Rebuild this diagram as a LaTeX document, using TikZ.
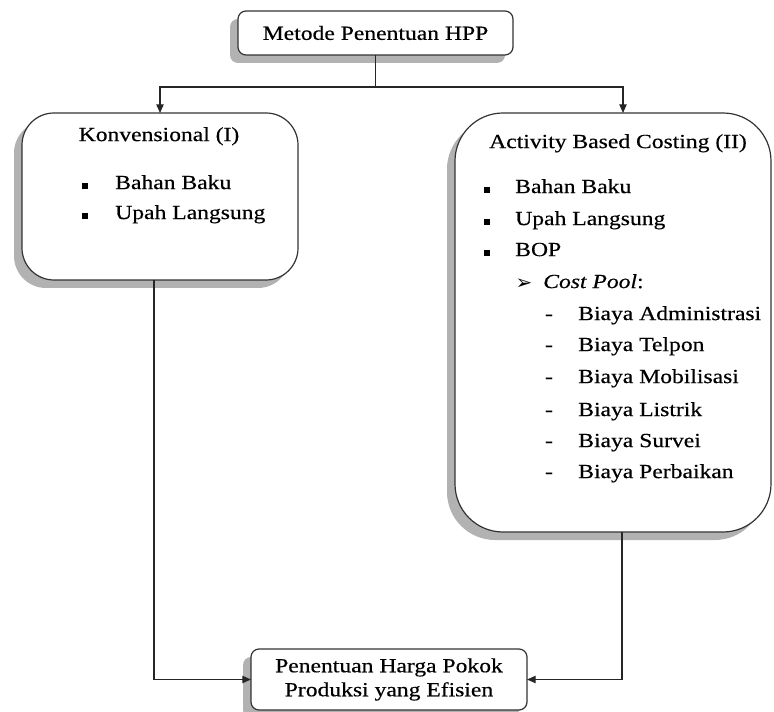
\documentclass[tikz,border=0pt]{standalone}
\usepackage{fontspec}
\setmainfont{Liberation Serif}[FakeStretch=1.18,FakeBold=0.4]
\newfontfamily\dingfont{DejaVu Sans}
\usetikzlibrary{arrows.meta,shadows,calc}
\begin{document}
\begin{tikzpicture}[x=0.75pt,y=-0.75pt,
  txt/.style={font=\fontsize{15}{18}\selectfont, text=black},
  box/.style={txt, draw=black!80, line width=0.9pt, fill=white, outer sep=0pt, inner sep=0pt,
    drop shadow={shadow xshift=-6pt, shadow yshift=-6pt, fill=black!30, opacity=1}},
  lbl/.style={txt, inner sep=0pt, anchor=mid west},
  ttl/.style={lbl, anchor=mid},
  sq/.style={fill=black, minimum size=4.5pt, inner sep=0pt},
  link/.style={line width=0.9pt, draw=black!85},
  arr/.style={link, -{Triangle[length=6.5pt,width=5.5pt]}}
]
\useasboundingbox (0,0) rectangle (774,712);

% boxes
\node[box, rounded corners=6pt, minimum width=206.25pt, minimum height=33pt] (hpp) at (375.5,33) {Metode Penentuan HPP};
\node[box, rounded corners=24pt, minimum width=207pt, minimum height=125.25pt] (konv) at (160,196.5) {};
\node[box, rounded corners=36pt, minimum width=237pt, minimum height=314.25pt] (abc) at (613,322.5) {};
\node[box, rounded corners=6pt, minimum width=207pt, minimum height=45.75pt, align=center] (eff) at (389,679.5) {Penentuan Harga Pokok\\Produksi yang Efisien};

% connectors
\coordinate (split) at ($(hpp.south)+(0,32)$);
\draw[link] (hpp.south) -- (split);
\draw[arr] (split) -| (konv.north);
\draw[arr] (split) -| ($(abc.north)+(10,0)$);
\draw[arr] ($(konv.south)+(-6,0)$) |- (eff.west);
\draw[arr] ($(abc.south)+(9,0)$) |- (eff.east);

% conventional method
\node[ttl] (konvT) at (159,138) {Konvensional (I)};
\node[sq] (kb1) at (85,186) {};
\node[lbl] (k1) at (115,186) {Bahan Baku};
\node[sq] (kb2) at (85,216) {};
\node[lbl] (k2) at (115,216) {Upah Langsung};

% activity based costing
\node[ttl] (abcT) at (618,145) {Activity Based Costing (II)};
\node[sq] (ab1) at (487,190) {};
\node[lbl] (a1) at (515,190) {Bahan Baku};
\node[sq] (ab2) at (487,222) {};
\node[lbl] (a2) at (515,222) {Upah Langsung};
\node[sq] (ab3) at (487,253) {};
\node[lbl] (a3) at (515,253) {BOP};
\node[lbl, anchor=mid] (cpA) at (524,286) {\dingfont\fontsize{15}{17}\selectfont ➢};
\node[lbl] (cp) at (543,285) {\textit{Cost Pool}:};
\foreach \y/\t [count=\i] in {317/Biaya Administrasi, 348/Biaya Telpon, 380/Biaya Mobilisasi,
    413/Biaya Listrik, 444/Biaya Survei, 475/Biaya Perbaikan} {
  \node[lbl, anchor=mid] (cd\i) at (549,\y) {-};
  \node[lbl] (c\i) at (578,\y) {\t};
}
\end{tikzpicture}
\end{document}
